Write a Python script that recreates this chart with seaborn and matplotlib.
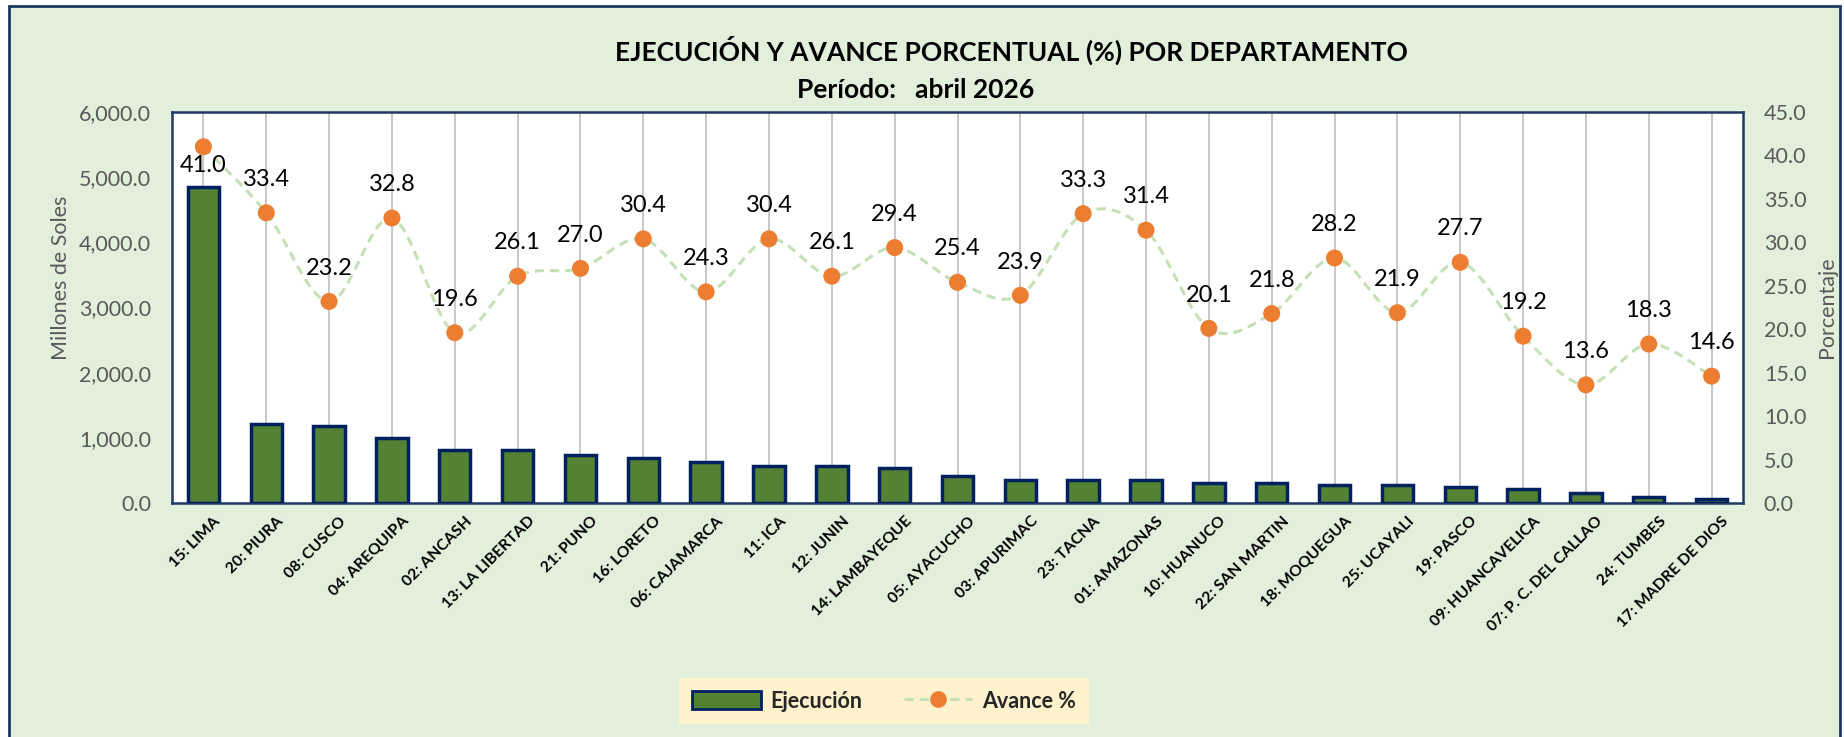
import numpy as np
import pandas as pd
import matplotlib
matplotlib.use("Agg")
import matplotlib.pyplot as plt
import seaborn as sns
from matplotlib.patches import Rectangle, Patch
from matplotlib.lines import Line2D
from matplotlib.ticker import FuncFormatter, MultipleLocator
from matplotlib.transforms import ScaledTranslation

# ---------------- data ----------------
departamentos = [
    "15: LIMA", "20: PIURA", "08: CUSCO", "04: AREQUIPA", "02: ANCASH",
    "13: LA LIBERTAD", "21: PUNO", "16: LORETO", "06: CAJAMARCA", "11: ICA",
    "12: JUNIN", "14: LAMBAYEQUE", "05: AYACUCHO", "03: APURIMAC", "23: TACNA",
    "01: AMAZONAS", "10: HUANUCO", "22: SAN MARTIN", "18: MOQUEGUA", "25: UCAYALI",
    "19: PASCO", "09: HUANCAVELICA", "07: P. C. DEL CALLAO", "24: TUMBES",
    "17: MADRE DE DIOS",
]
ejecucion = [4846, 1215, 1185, 1000, 815, 815, 738, 695, 635, 574, 574, 543,
             420, 358, 358, 358, 303, 303, 275, 275, 246, 215, 154, 92, 62]
avance = [41.0, 33.4, 23.2, 32.8, 19.6, 26.1, 27.0, 30.4, 24.3, 30.4, 26.1,
          29.4, 25.4, 23.9, 33.3, 31.4, 20.1, 21.8, 28.2, 21.9, 27.7, 19.2,
          13.6, 18.3, 14.6]

titulo = "EJECUCIÓN Y AVANCE PORCENTUAL (%) POR DEPARTAMENTO"
subtitulo = "Período:   abril 2026"

# ---------------- style ----------------
sns.set_style("white")
plt.rcParams['font.family'] = ['Lato', 'DejaVu Sans']

W, H = 1844, 737
fig = plt.figure(figsize=(W / 100, H / 100), dpi=100)
fig.patch.set_facecolor('white')
fig.patches.append(Rectangle((9 / W, -0.01), (1840 - 9) / W, (H - 6) / H + 0.01,
                             transform=fig.transFigure, facecolor='#E2EFDA',
                             edgecolor='#1F3864', lw=2, zorder=-10))

left, right, bottom, top = 172, 1743, 503, 112
ax = fig.add_axes([left / W, 1 - bottom / H, (right - left) / W, (bottom - top) / H])
ax.set_facecolor('white')

df = pd.DataFrame({'dep': departamentos, 'ej': ejecucion, 'av': avance})
sns.barplot(data=df, x='dep', y='ej', ax=ax, color='#548235', saturation=1,
            edgecolor='#002060', linewidth=2.5, width=0.5, zorder=3)

ax.set_xlim(-0.5, len(departamentos) - 0.5)
ax.set_ylim(0, 6000)
ax.yaxis.set_major_locator(MultipleLocator(1000))
ax.yaxis.set_major_formatter(FuncFormatter(lambda v, p: f"{v:,.1f}"))
ax.xaxis.grid(True, color='#BFBFBF', lw=1.2)
ax.yaxis.grid(False)
ax.set_axisbelow(True)
for s in ax.spines.values():
    s.set_color('#1F3864')
    s.set_linewidth(1.8)
ax.tick_params(axis='y', length=0, labelsize=15.5, labelcolor='#595959', pad=15)
ax.tick_params(axis='x', length=0, pad=8)
ax.set_xlabel("")
ax.set_ylabel("Millones de Soles", fontsize=15.5, color='#595959')
ax.yaxis.set_label_coords(-0.064, 0.575)
ax.set_xticks(range(len(departamentos)))
ax.set_xticklabels(departamentos, rotation=45, ha='right', va='top',
                   rotation_mode='anchor', fontsize=11.3, fontweight='bold',
                   color='black')
shift = ScaledTranslation(10 / 100, 0, fig.dpi_scale_trans)
for lbl in ax.get_xticklabels():
    lbl.set_transform(lbl.get_transform() + shift)

# ---------------- secondary axis ----------------
ax2 = ax.twinx()
ax2.set_ylim(0, 45)
ax2.yaxis.set_major_locator(MultipleLocator(5))
ax2.yaxis.set_major_formatter(FuncFormatter(lambda v, p: f"{v:.1f}"))
ax2.tick_params(axis='y', length=0, labelsize=15.5, labelcolor='#595959', pad=15)
for s in ax2.spines.values():
    s.set_visible(False)
ax2.set_ylabel("Porcentaje", fontsize=15.5, color='#595959')
ax2.yaxis.set_label_coords(1.047, 0.50)
ax2.grid(False)

# smoothed line (Excel-like Bezier smoothing through the read points)
xs = np.arange(len(avance), dtype=float)
ys = np.array(avance, dtype=float)
cx, cy = [], []
n = len(xs)
for i in range(n - 1):
    p0 = np.array([xs[max(i - 1, 0)], ys[max(i - 1, 0)]])
    p1 = np.array([xs[i], ys[i]])
    p2 = np.array([xs[i + 1], ys[i + 1]])
    p3 = np.array([xs[min(i + 2, n - 1)], ys[min(i + 2, n - 1)]])
    c1 = p1 + (p2 - p0) / 6
    c2 = p2 - (p3 - p1) / 6
    t = np.linspace(0, 1, 30)[:, None]
    pts = ((1 - t) ** 3) * p1 + 3 * ((1 - t) ** 2) * t * c1 + 3 * (1 - t) * t ** 2 * c2 + t ** 3 * p2
    cx.extend(pts[:, 0]); cy.extend(pts[:, 1])
ax2.plot(cx, cy, color='#C5E0B4', lw=2.2, ls=(0, (3, 2)), zorder=4)
sns.scatterplot(x=xs, y=ys, ax=ax2, color='#ED7D31', s=150, edgecolor='none',
                zorder=5, legend=False)

for i, v in enumerate(avance):
    off = -13.5 if i == 0 else 24
    ax2.annotate(f"{v:.1f}", (i, v), xytext=(0, off), textcoords='offset points',
                 ha='center', va='center', fontsize=17, color='black', zorder=6)

# ---------------- titles ----------------
fig.text(1011 / W, 1 - 50 / H, titulo, ha='center', va='center',
         fontsize=19, fontweight='bold', color='black')
fig.text(916 / W, 1 - 90 / H, subtitulo, ha='center', va='center',
         fontsize=19, fontweight='bold', color='black')

# ---------------- legend ----------------
handles = [
    Patch(facecolor='#548235', edgecolor='#002060', linewidth=2, label='Ejecución'),
    Line2D([0], [0], color='#C5E0B4', lw=2.2, ls=(0, (3, 2)), marker='o',
           markersize=12, markerfacecolor='#ED7D31', markeredgecolor='none',
           label='Avance %'),
]
leg = fig.legend(handles=handles, loc='center', bbox_to_anchor=(884 / W, 1 - 701 / H),
                 ncol=2, frameon=True, facecolor='#FFF2CC', edgecolor='none',
                 fancybox=False, framealpha=1, handlelength=3.2, handleheight=0.9,
                 handletextpad=0.45, columnspacing=1.9, borderpad=0.6,
                 prop={'size': 15.5, 'weight': 'bold'})

fig.savefig("out.png", dpi=100, facecolor=fig.get_facecolor())
